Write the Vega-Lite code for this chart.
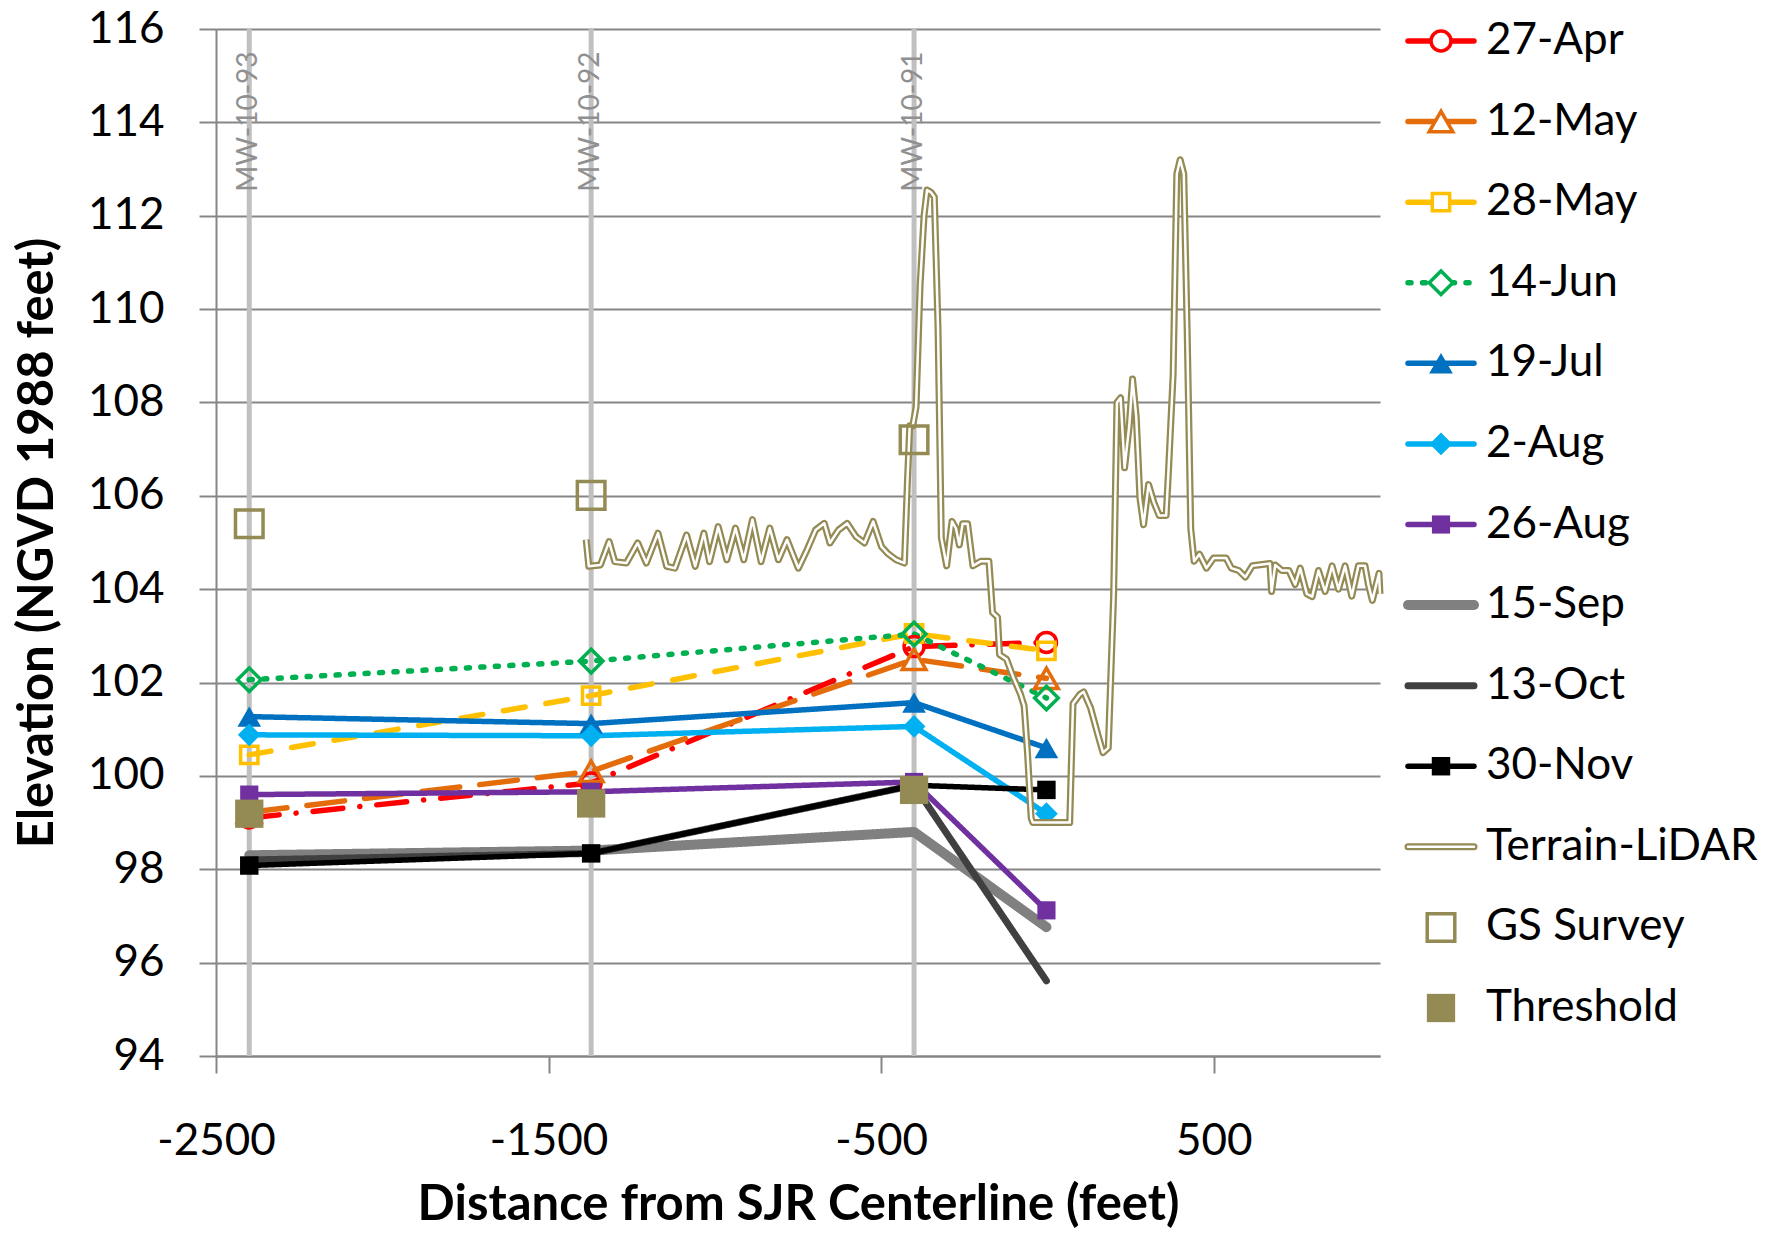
{
  "$schema": "https://vega.github.io/schema/vega-lite/v6.json",
  "background": "white",
  "padding": {"left": 13, "top": 7, "right": 2, "bottom": 4},
  "config": {"font": "Lato", "view": {"stroke": null}},
  "spacing": 28,
  "bounds": "flush",
  "datasets": {
    "wells": [
      {"well": "MW-10-93", "x": -2400},
      {"well": "MW-10-92", "x": -1372},
      {"well": "MW-10-91", "x": -401}
    ],
    "levels": [
      {"series": "27-Apr", "x": -2400, "y": 99.1}, {"series": "27-Apr", "x": -1372, "y": 99.85}, {"series": "27-Apr", "x": -401, "y": 102.77}, {"series": "27-Apr", "x": -3, "y": 102.86},
      {"series": "12-May", "x": -2400, "y": 99.22}, {"series": "12-May", "x": -1372, "y": 100.1}, {"series": "12-May", "x": -401, "y": 102.5}, {"series": "12-May", "x": -3, "y": 102.09},
      {"series": "28-May", "x": -2400, "y": 100.45}, {"series": "28-May", "x": -1372, "y": 101.72}, {"series": "28-May", "x": -401, "y": 103.05}, {"series": "28-May", "x": -3, "y": 102.68},
      {"series": "14-Jun", "x": -2400, "y": 102.06}, {"series": "14-Jun", "x": -1372, "y": 102.46}, {"series": "14-Jun", "x": -401, "y": 103.04}, {"series": "14-Jun", "x": -3, "y": 101.67},
      {"series": "19-Jul", "x": -2400, "y": 101.27}, {"series": "19-Jul", "x": -1372, "y": 101.12}, {"series": "19-Jul", "x": -401, "y": 101.57}, {"series": "19-Jul", "x": -3, "y": 100.6},
      {"series": "2-Aug", "x": -2400, "y": 100.88}, {"series": "2-Aug", "x": -1372, "y": 100.86}, {"series": "2-Aug", "x": -401, "y": 101.06}, {"series": "2-Aug", "x": -3, "y": 99.19},
      {"series": "26-Aug", "x": -2400, "y": 99.6}, {"series": "26-Aug", "x": -1372, "y": 99.66}, {"series": "26-Aug", "x": -401, "y": 99.87}, {"series": "26-Aug", "x": -3, "y": 97.12},
      {"series": "15-Sep", "x": -2400, "y": 98.3}, {"series": "15-Sep", "x": -1372, "y": 98.4}, {"series": "15-Sep", "x": -401, "y": 98.8}, {"series": "15-Sep", "x": -3, "y": 96.76},
      {"series": "13-Oct", "x": -2400, "y": 98.2}, {"series": "13-Oct", "x": -1372, "y": 98.34}, {"series": "13-Oct", "x": -401, "y": 99.8}, {"series": "13-Oct", "x": -3, "y": 95.61},
      {"series": "30-Nov", "x": -2400, "y": 98.08}, {"series": "30-Nov", "x": -1372, "y": 98.34}, {"series": "30-Nov", "x": -401, "y": 99.8}, {"series": "30-Nov", "x": -3, "y": 99.7}
    ],
    "survey": [
      {"series": "GS Survey", "x": -2400, "y": 105.4}, {"series": "GS Survey", "x": -1372, "y": 106.01}, {"series": "GS Survey", "x": -401, "y": 107.2},
      {"series": "Threshold", "x": -2400, "y": 99.19}, {"series": "Threshold", "x": -1372, "y": 99.41}, {"series": "Threshold", "x": -401, "y": 99.7}
    ],
    "terrain": [
      {"x": -1387, "y": 105.06}, {"x": -1379, "y": 104.49}, {"x": -1344, "y": 104.52}, {"x": -1318, "y": 105.02}, {"x": -1301, "y": 104.59},
      {"x": -1266, "y": 104.56}, {"x": -1232, "y": 104.99}, {"x": -1206, "y": 104.56}, {"x": -1171, "y": 105.2}, {"x": -1145, "y": 104.49},
      {"x": -1120, "y": 104.45}, {"x": -1085, "y": 105.16}, {"x": -1059, "y": 104.49}, {"x": -1033, "y": 105.2}, {"x": -1016, "y": 104.59},
      {"x": -990, "y": 105.34}, {"x": -964, "y": 104.63}, {"x": -938, "y": 105.31}, {"x": -913, "y": 104.63}, {"x": -887, "y": 105.49},
      {"x": -861, "y": 104.59}, {"x": -835, "y": 105.31}, {"x": -809, "y": 104.63}, {"x": -783, "y": 105.06}, {"x": -749, "y": 104.45},
      {"x": -723, "y": 104.84}, {"x": -697, "y": 105.27}, {"x": -671, "y": 105.41}, {"x": -654, "y": 104.99}, {"x": -628, "y": 105.27},
      {"x": -602, "y": 105.41}, {"x": -576, "y": 105.13}, {"x": -550, "y": 104.99}, {"x": -524, "y": 105.45}, {"x": -499, "y": 104.91},
      {"x": -481, "y": 104.77}, {"x": -455, "y": 104.63}, {"x": -430, "y": 104.56}, {"x": -421, "y": 106.3}, {"x": -414, "y": 107.5},
      {"x": -405, "y": 107.5}, {"x": -395, "y": 107.9}, {"x": -383, "y": 110.5}, {"x": -371, "y": 112.0}, {"x": -362, "y": 112.55},
      {"x": -350, "y": 112.5}, {"x": -340, "y": 112.4}, {"x": -329, "y": 109.6}, {"x": -319, "y": 105.1}, {"x": -303, "y": 104.5},
      {"x": -287, "y": 105.45}, {"x": -275, "y": 105.3}, {"x": -265, "y": 104.95}, {"x": -255, "y": 105.4}, {"x": -240, "y": 105.4},
      {"x": -224, "y": 104.5}, {"x": -200, "y": 104.6}, {"x": -176, "y": 104.6}, {"x": -165, "y": 103.5}, {"x": -150, "y": 103.4},
      {"x": -144, "y": 102.6}, {"x": -123, "y": 102.5}, {"x": -102, "y": 102.1}, {"x": -81, "y": 101.75}, {"x": -70, "y": 101.5},
      {"x": -60, "y": 100.5}, {"x": -49, "y": 99.1}, {"x": -44, "y": 99.0}, {"x": 67, "y": 99.0}, {"x": 77, "y": 101.55},
      {"x": 98, "y": 101.75}, {"x": 109, "y": 101.8}, {"x": 130, "y": 101.45}, {"x": 151, "y": 100.9}, {"x": 167, "y": 100.5},
      {"x": 183, "y": 100.6}, {"x": 199, "y": 103.85}, {"x": 209, "y": 108.0}, {"x": 220, "y": 108.1}, {"x": 232, "y": 106.6},
      {"x": 246, "y": 107.5}, {"x": 256, "y": 108.5}, {"x": 267, "y": 107.7}, {"x": 278, "y": 105.96}, {"x": 289, "y": 105.38},
      {"x": 304, "y": 106.24}, {"x": 320, "y": 105.86}, {"x": 336, "y": 105.58}, {"x": 357, "y": 105.58}, {"x": 364, "y": 106.53},
      {"x": 378, "y": 108.6}, {"x": 389, "y": 112.9}, {"x": 399, "y": 113.2}, {"x": 410, "y": 112.9}, {"x": 420, "y": 109.6},
      {"x": 431, "y": 105.3}, {"x": 441, "y": 104.6}, {"x": 457, "y": 104.75}, {"x": 478, "y": 104.45}, {"x": 500, "y": 104.67},
      {"x": 537, "y": 104.67}, {"x": 553, "y": 104.45}, {"x": 575, "y": 104.4}, {"x": 595, "y": 104.26}, {"x": 616, "y": 104.5},
      {"x": 669, "y": 104.55}, {"x": 674, "y": 103.95}, {"x": 685, "y": 104.52}, {"x": 705, "y": 104.4}, {"x": 726, "y": 104.4},
      {"x": 745, "y": 104.1}, {"x": 760, "y": 104.45}, {"x": 780, "y": 103.9}, {"x": 796, "y": 103.84}, {"x": 815, "y": 104.4},
      {"x": 835, "y": 103.95}, {"x": 856, "y": 104.5}, {"x": 875, "y": 104.0}, {"x": 895, "y": 104.5}, {"x": 915, "y": 103.85},
      {"x": 935, "y": 104.5}, {"x": 955, "y": 104.5}, {"x": 965, "y": 104.1}, {"x": 977, "y": 103.76}, {"x": 997, "y": 104.34},
      {"x": 1000, "y": 103.9}
    ],
    "legend": [
      {"series": "27-Apr", "kind": "line", "marker": "open"},
      {"series": "12-May", "kind": "line", "marker": "open"},
      {"series": "28-May", "kind": "line", "marker": "open"},
      {"series": "14-Jun", "kind": "dots", "marker": "open"},
      {"series": "19-Jul", "kind": "line", "marker": "filled"},
      {"series": "2-Aug", "kind": "line", "marker": "filled"},
      {"series": "26-Aug", "kind": "line", "marker": "filled"},
      {"series": "15-Sep", "kind": "line", "marker": "none"},
      {"series": "13-Oct", "kind": "line", "marker": "none"},
      {"series": "30-Nov", "kind": "line", "marker": "filled"},
      {"series": "Terrain-LiDAR", "kind": "double", "marker": "none"},
      {"series": "GS Survey", "kind": "none", "marker": "open"},
      {"series": "Threshold", "kind": "none", "marker": "filled"}
    ]
  },
  "hconcat": [
    {
      "width": 1164,
      "height": 1027,
      "encoding": {
        "x": {
          "field": "x", "type": "quantitative",
          "scale": {"domain": [-2500, 1000], "nice": false, "zero": false},
          "axis": {
            "values": [-2500, -1500, -500, 500],
            "labelExpr": "'' + datum.value",
            "title": "Distance from SJR Centerline (feet)",
            "grid": false,
            "domainColor": "#868686", "domainWidth": 2,
            "tickColor": "#868686", "tickWidth": 2, "tickSize": 17,
            "labelFontSize": 44, "labelColor": "#000000", "labelPadding": 46, "labelFlush": false,
            "titleFontSize": 49, "titleFontWeight": "bold", "titleColor": "#000000", "titlePadding": 17
          }
        }
      },
      "layer": [
        {
          "data": {"name": "wells"},
          "mark": {"type": "rule", "color": "#C0C0C0", "strokeWidth": 5}
        },
        {
          "data": {"name": "wells"},
          "mark": {"type": "text", "angle": 270, "align": "right", "baseline": "middle", "color": "#909090", "fontSize": 28},
          "encoding": {
            "y": {"datum": 115.52, "type": "quantitative", "scale": {"domain": [94, 116], "nice": false, "zero": false}, "title": "Elevation (NGVD 1988 feet)"},
            "text": {"field": "well"}
          }
        },
        {
          "encoding": {
            "y": {
              "field": "y", "type": "quantitative",
              "scale": {"domain": [94, 116], "nice": false, "zero": false},
              "title": "Elevation (NGVD 1988 feet)",
              "axis": {
                "values": [94, 96, 98, 100, 102, 104, 106, 108, 110, 112, 114, 116],
                "grid": true, "gridColor": "#868686", "gridWidth": 2,
                "domainColor": "#868686", "domainWidth": 2,
                "tickColor": "#868686", "tickWidth": 2, "tickSize": 17,
                "labelFontSize": 44, "labelColor": "#000000", "labelPadding": 35,
                "titleFontSize": 49, "titleFontWeight": "bold", "titleColor": "#000000", "titlePadding": 25
              }
            }
          },
          "layer": [
            {
              "data": {"name": "levels"},
              "mark": {"type": "line", "strokeCap": "round", "strokeJoin": "round"},
              "encoding": {
                "order": {"field": "x", "type": "quantitative"},
                "color": {"field": "series", "type": "nominal", "legend": null,
                  "scale": {"domain": ["27-Apr", "12-May", "28-May", "14-Jun", "19-Jul", "2-Aug", "26-Aug", "15-Sep", "13-Oct", "30-Nov", "Terrain-LiDAR", "GS Survey", "Threshold"],
                            "range": ["#FF0000", "#E46C0A", "#FFC000", "#00B050", "#0070C0", "#00B0F0", "#7030A0", "#808080", "#404040", "#000000", "#948A54", "#948A54", "#948A54"]}},
                "strokeDash": {"field": "series", "type": "nominal", "legend": null,
                  "scale": {"type": "ordinal", "domain": ["27-Apr", "12-May", "28-May", "14-Jun", "19-Jul", "2-Aug", "26-Aug", "15-Sep", "13-Oct", "30-Nov", "Terrain-LiDAR", "GS Survey", "Threshold"],
                            "range": [[30, 17, 0.1, 17], [38, 20], [22, 21], [3, 11.5], [1, 0], [1, 0], [1, 0], [1, 0], [1, 0], [1, 0], [1, 0], [1, 0], [1, 0]]}},
                "strokeWidth": {"field": "series", "type": "nominal", "legend": null,
                  "scale": {"type": "ordinal", "domain": ["27-Apr", "12-May", "28-May", "14-Jun", "19-Jul", "2-Aug", "26-Aug", "15-Sep", "13-Oct", "30-Nov", "Terrain-LiDAR", "GS Survey", "Threshold"],
                            "range": [5.5, 5.5, 5.5, 5.5, 5.5, 5.5, 5.5, 10, 7, 5.5, 7, 1, 1]}}
              }
            },
            {
              "data": {"name": "levels"},
              "transform": [{"filter": "indexof(['27-Apr','12-May','28-May','14-Jun'], datum.series) >= 0"}],
              "mark": {"type": "point", "filled": false, "strokeWidth": 3.5, "opacity": 1},
              "encoding": {
                "color": {"field": "series", "type": "nominal", "legend": null,
                  "scale": {"domain": ["27-Apr", "12-May", "28-May", "14-Jun", "19-Jul", "2-Aug", "26-Aug", "15-Sep", "13-Oct", "30-Nov", "Terrain-LiDAR", "GS Survey", "Threshold"],
                            "range": ["#FF0000", "#E46C0A", "#FFC000", "#00B050", "#0070C0", "#00B0F0", "#7030A0", "#808080", "#404040", "#000000", "#948A54", "#948A54", "#948A54"]}},
                "shape": {"field": "series", "type": "nominal", "legend": null,
                  "scale": {"domain": ["27-Apr", "12-May", "28-May", "14-Jun", "19-Jul", "2-Aug", "26-Aug", "15-Sep", "13-Oct", "30-Nov", "Terrain-LiDAR", "GS Survey", "Threshold"],
                            "range": ["circle", "triangle-up", "square", "diamond", "triangle-up", "diamond", "square", "circle", "circle", "square", "circle", "square", "square"]}},
                "size": {"field": "series", "type": "nominal", "legend": null,
                  "scale": {"type": "ordinal", "domain": ["27-Apr", "12-May", "28-May", "14-Jun", "19-Jul", "2-Aug", "26-Aug", "15-Sep", "13-Oct", "30-Nov", "Terrain-LiDAR", "GS Survey", "Threshold"],
                            "range": [400, 560, 300, 560, 560, 520, 330, 100, 100, 340, 100, 760, 800]}}
              }
            },
            {
              "data": {"name": "levels"},
              "transform": [{"filter": "indexof(['19-Jul','2-Aug','26-Aug','30-Nov'], datum.series) >= 0"}],
              "mark": {"type": "point", "filled": true, "opacity": 1},
              "encoding": {
                "color": {"field": "series", "type": "nominal", "legend": null,
                  "scale": {"domain": ["27-Apr", "12-May", "28-May", "14-Jun", "19-Jul", "2-Aug", "26-Aug", "15-Sep", "13-Oct", "30-Nov", "Terrain-LiDAR", "GS Survey", "Threshold"],
                            "range": ["#FF0000", "#E46C0A", "#FFC000", "#00B050", "#0070C0", "#00B0F0", "#7030A0", "#808080", "#404040", "#000000", "#948A54", "#948A54", "#948A54"]}},
                "shape": {"field": "series", "type": "nominal", "legend": null,
                  "scale": {"domain": ["27-Apr", "12-May", "28-May", "14-Jun", "19-Jul", "2-Aug", "26-Aug", "15-Sep", "13-Oct", "30-Nov", "Terrain-LiDAR", "GS Survey", "Threshold"],
                            "range": ["circle", "triangle-up", "square", "diamond", "triangle-up", "diamond", "square", "circle", "circle", "square", "circle", "square", "square"]}},
                "size": {"field": "series", "type": "nominal", "legend": null,
                  "scale": {"type": "ordinal", "domain": ["27-Apr", "12-May", "28-May", "14-Jun", "19-Jul", "2-Aug", "26-Aug", "15-Sep", "13-Oct", "30-Nov", "Terrain-LiDAR", "GS Survey", "Threshold"],
                            "range": [400, 560, 300, 560, 560, 520, 330, 100, 100, 340, 100, 760, 800]}}
              }
            },
            {
              "data": {"name": "terrain"},
              "mark": {"type": "line", "color": "#948A54", "strokeWidth": 7, "strokeJoin": "round"},
              "encoding": {"order": {"field": "x", "type": "quantitative"}}
            },
            {
              "data": {"name": "terrain"},
              "mark": {"type": "line", "color": "#FFFFFF", "strokeWidth": 2.5, "strokeJoin": "round"},
              "encoding": {"order": {"field": "x", "type": "quantitative"}}
            },
            {
              "data": {"name": "survey"},
              "transform": [{"filter": "datum.series == 'GS Survey'"}],
              "mark": {"type": "point", "filled": false, "strokeWidth": 3.5, "opacity": 1},
              "encoding": {
                "color": {"field": "series", "type": "nominal", "legend": null,
                  "scale": {"domain": ["27-Apr", "12-May", "28-May", "14-Jun", "19-Jul", "2-Aug", "26-Aug", "15-Sep", "13-Oct", "30-Nov", "Terrain-LiDAR", "GS Survey", "Threshold"],
                            "range": ["#FF0000", "#E46C0A", "#FFC000", "#00B050", "#0070C0", "#00B0F0", "#7030A0", "#808080", "#404040", "#000000", "#948A54", "#948A54", "#948A54"]}},
                "shape": {"field": "series", "type": "nominal", "legend": null,
                  "scale": {"domain": ["27-Apr", "12-May", "28-May", "14-Jun", "19-Jul", "2-Aug", "26-Aug", "15-Sep", "13-Oct", "30-Nov", "Terrain-LiDAR", "GS Survey", "Threshold"],
                            "range": ["circle", "triangle-up", "square", "diamond", "triangle-up", "diamond", "square", "circle", "circle", "square", "circle", "square", "square"]}},
                "size": {"field": "series", "type": "nominal", "legend": null,
                  "scale": {"type": "ordinal", "domain": ["27-Apr", "12-May", "28-May", "14-Jun", "19-Jul", "2-Aug", "26-Aug", "15-Sep", "13-Oct", "30-Nov", "Terrain-LiDAR", "GS Survey", "Threshold"],
                            "range": [400, 560, 300, 560, 560, 520, 330, 100, 100, 340, 100, 760, 800]}}
              }
            },
            {
              "data": {"name": "survey"},
              "transform": [{"filter": "datum.series == 'Threshold'"}],
              "mark": {"type": "point", "filled": true, "opacity": 1},
              "encoding": {
                "color": {"field": "series", "type": "nominal", "legend": null,
                  "scale": {"domain": ["27-Apr", "12-May", "28-May", "14-Jun", "19-Jul", "2-Aug", "26-Aug", "15-Sep", "13-Oct", "30-Nov", "Terrain-LiDAR", "GS Survey", "Threshold"],
                            "range": ["#FF0000", "#E46C0A", "#FFC000", "#00B050", "#0070C0", "#00B0F0", "#7030A0", "#808080", "#404040", "#000000", "#948A54", "#948A54", "#948A54"]}},
                "shape": {"field": "series", "type": "nominal", "legend": null,
                  "scale": {"domain": ["27-Apr", "12-May", "28-May", "14-Jun", "19-Jul", "2-Aug", "26-Aug", "15-Sep", "13-Oct", "30-Nov", "Terrain-LiDAR", "GS Survey", "Threshold"],
                            "range": ["circle", "triangle-up", "square", "diamond", "triangle-up", "diamond", "square", "circle", "circle", "square", "circle", "square", "square"]}},
                "size": {"field": "series", "type": "nominal", "legend": null,
                  "scale": {"type": "ordinal", "domain": ["27-Apr", "12-May", "28-May", "14-Jun", "19-Jul", "2-Aug", "26-Aug", "15-Sep", "13-Oct", "30-Nov", "Terrain-LiDAR", "GS Survey", "Threshold"],
                            "range": [400, 560, 300, 560, 560, 520, 330, 100, 100, 340, 100, 760, 800]}}
              }
            }
          ]
        }
      ]
    },
    {
      "width": 66,
      "height": 991,
      "data": {"name": "legend"},
      "encoding": {
        "y": {"field": "series", "type": "nominal", "axis": null,
          "scale": {"type": "point", "padding": 0.149, "domain": ["27-Apr", "12-May", "28-May", "14-Jun", "19-Jul", "2-Aug", "26-Aug", "15-Sep", "13-Oct", "30-Nov", "Terrain-LiDAR", "GS Survey", "Threshold"]}}
      },
      "layer": [
        {
          "transform": [{"filter": "datum.kind == 'line'"}],
          "mark": {"type": "rule", "strokeCap": "round"},
          "encoding": {
            "x": {"datum": 0, "type": "quantitative", "scale": {"domain": [0, 1], "nice": false, "zero": false}, "axis": null},
            "x2": {"datum": 1},
            "color": {"field": "series", "type": "nominal", "legend": null,
              "scale": {"domain": ["27-Apr", "12-May", "28-May", "14-Jun", "19-Jul", "2-Aug", "26-Aug", "15-Sep", "13-Oct", "30-Nov", "Terrain-LiDAR", "GS Survey", "Threshold"],
                        "range": ["#FF0000", "#E46C0A", "#FFC000", "#00B050", "#0070C0", "#00B0F0", "#7030A0", "#808080", "#404040", "#000000", "#948A54", "#948A54", "#948A54"]}},
            "strokeWidth": {"field": "series", "type": "nominal", "legend": null,
              "scale": {"type": "ordinal", "domain": ["27-Apr", "12-May", "28-May", "14-Jun", "19-Jul", "2-Aug", "26-Aug", "15-Sep", "13-Oct", "30-Nov", "Terrain-LiDAR", "GS Survey", "Threshold"],
                        "range": [5.5, 5.5, 5.5, 5.5, 5.5, 5.5, 5.5, 10, 7, 5.5, 7, 1, 1]}}
          }
        },
        {
          "transform": [{"filter": "datum.kind == 'dots'"}],
          "mark": {"type": "rule", "strokeCap": "round", "strokeDash": [3, 11.5], "strokeWidth": 5.5, "color": "#00B050"},
          "encoding": {"x": {"datum": 0, "type": "quantitative"}, "x2": {"datum": 1}}
        },
        {
          "transform": [{"filter": "datum.kind == 'double'"}],
          "mark": {"type": "rule", "strokeCap": "round", "color": "#948A54", "strokeWidth": 7},
          "encoding": {"x": {"datum": 0, "type": "quantitative"}, "x2": {"datum": 1}}
        },
        {
          "transform": [{"filter": "datum.kind == 'double'"}],
          "mark": {"type": "rule", "strokeCap": "round", "color": "#FFFFFF", "strokeWidth": 2.5},
          "encoding": {"x": {"datum": 0, "type": "quantitative"}, "x2": {"datum": 1}}
        },
        {
          "transform": [{"filter": "datum.marker == 'open'"}],
          "mark": {"type": "point", "filled": false, "strokeWidth": 3.5, "opacity": 1, "fill": "#FFFFFF"},
          "encoding": {
            "x": {"datum": 0.5, "type": "quantitative"},
            "color": {"field": "series", "type": "nominal", "legend": null,
              "scale": {"domain": ["27-Apr", "12-May", "28-May", "14-Jun", "19-Jul", "2-Aug", "26-Aug", "15-Sep", "13-Oct", "30-Nov", "Terrain-LiDAR", "GS Survey", "Threshold"],
                        "range": ["#FF0000", "#E46C0A", "#FFC000", "#00B050", "#0070C0", "#00B0F0", "#7030A0", "#808080", "#404040", "#000000", "#948A54", "#948A54", "#948A54"]}},
            "shape": {"field": "series", "type": "nominal", "legend": null,
              "scale": {"domain": ["27-Apr", "12-May", "28-May", "14-Jun", "19-Jul", "2-Aug", "26-Aug", "15-Sep", "13-Oct", "30-Nov", "Terrain-LiDAR", "GS Survey", "Threshold"],
                        "range": ["circle", "triangle-up", "square", "diamond", "triangle-up", "diamond", "square", "circle", "circle", "square", "circle", "square", "square"]}},
            "size": {"field": "series", "type": "nominal", "legend": null,
              "scale": {"type": "ordinal", "domain": ["27-Apr", "12-May", "28-May", "14-Jun", "19-Jul", "2-Aug", "26-Aug", "15-Sep", "13-Oct", "30-Nov", "Terrain-LiDAR", "GS Survey", "Threshold"],
                        "range": [400, 560, 300, 560, 560, 520, 330, 100, 100, 340, 100, 760, 800]}}
          }
        },
        {
          "transform": [{"filter": "datum.marker == 'filled'"}],
          "mark": {"type": "point", "filled": true, "opacity": 1},
          "encoding": {
            "x": {"datum": 0.5, "type": "quantitative"},
            "color": {"field": "series", "type": "nominal", "legend": null,
              "scale": {"domain": ["27-Apr", "12-May", "28-May", "14-Jun", "19-Jul", "2-Aug", "26-Aug", "15-Sep", "13-Oct", "30-Nov", "Terrain-LiDAR", "GS Survey", "Threshold"],
                        "range": ["#FF0000", "#E46C0A", "#FFC000", "#00B050", "#0070C0", "#00B0F0", "#7030A0", "#808080", "#404040", "#000000", "#948A54", "#948A54", "#948A54"]}},
            "shape": {"field": "series", "type": "nominal", "legend": null,
              "scale": {"domain": ["27-Apr", "12-May", "28-May", "14-Jun", "19-Jul", "2-Aug", "26-Aug", "15-Sep", "13-Oct", "30-Nov", "Terrain-LiDAR", "GS Survey", "Threshold"],
                        "range": ["circle", "triangle-up", "square", "diamond", "triangle-up", "diamond", "square", "circle", "circle", "square", "circle", "square", "square"]}},
            "size": {"field": "series", "type": "nominal", "legend": null,
              "scale": {"type": "ordinal", "domain": ["27-Apr", "12-May", "28-May", "14-Jun", "19-Jul", "2-Aug", "26-Aug", "15-Sep", "13-Oct", "30-Nov", "Terrain-LiDAR", "GS Survey", "Threshold"],
                        "range": [400, 560, 300, 560, 560, 520, 330, 100, 100, 340, 100, 760, 800]}}
          }
        },
        {
          "mark": {"type": "text", "align": "left", "baseline": "middle", "fontSize": 44, "color": "#000000"},
          "encoding": {
            "x": {"datum": 1.18, "type": "quantitative"},
            "text": {"field": "series"}
          }
        }
      ]
    }
  ]
}
